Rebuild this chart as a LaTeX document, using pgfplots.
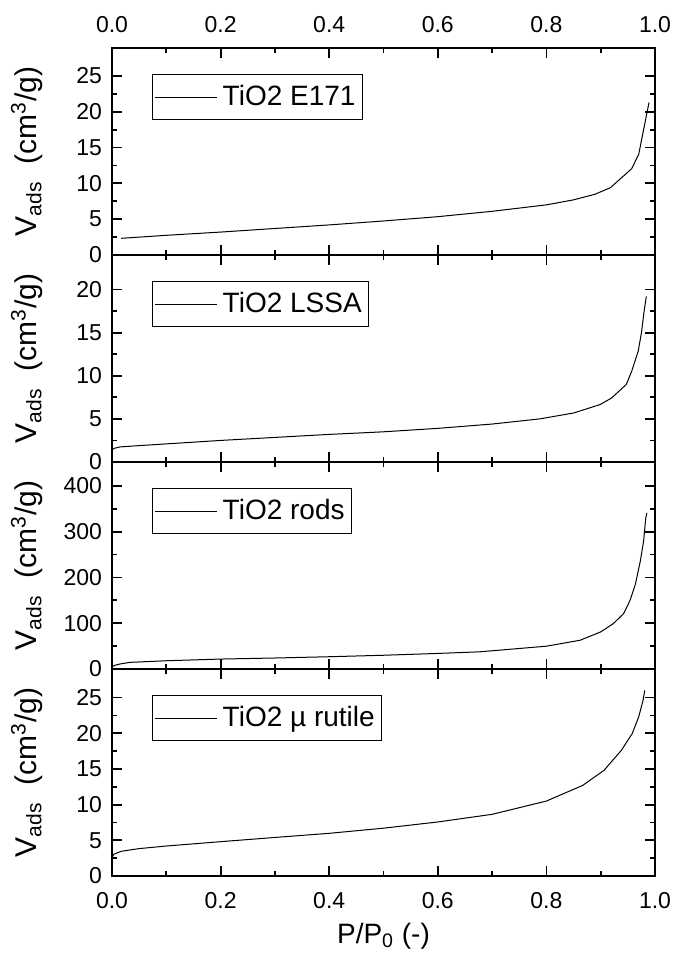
\documentclass[border=0pt]{standalone}
\usepackage{pgfplots}
\pgfplotsset{compat=1.18}
\usepackage{fontspec}
\setmainfont{Liberation Sans}
\begin{document}
\begin{tikzpicture}
\useasboundingbox (-56pt,-42pt) rectangle (282.5pt,438pt);
\pgfplotsset{
  panel/.style={
    width=271.5pt, height=103.5pt, scale only axis,
    xmin=0, xmax=1,
    xtick={0,0.2,0.4,0.6,0.8,1},
    minor x tick num=1, minor y tick num=1,
    tick align=inside,
    axis line style={line width=0.9pt},
    every tick/.style={line width=0.9pt, black},
    major tick length=5pt, minor tick length=2.5pt,
    tick label style={font=\fontsize{11.5}{13}\selectfont},
    /pgf/number format/assume math mode=true,
    xticklabel style={/pgf/number format/fixed, /pgf/number format/fixed zerofill, /pgf/number format/precision=1},
    yticklabel style={xshift=-1.5pt},
    every axis y label/.style={at={(axis description cs:-0.157,0.5)}, rotate=90, anchor=center},
    ylabel={V\textsubscript{ads}\ \ (cm\textsuperscript{3}/g)},
    ylabel style={font=\fontsize{15}{17}\selectfont},
    legend style={at={(0.075,0.872)}, anchor=north west, draw=black, line width=0.5pt,
      font=\fontsize{14}{16}\selectfont, inner xsep=1pt, inner ysep=1pt, outer sep=0pt,
      nodes={inner xsep=2.5pt, inner ysep=4.5pt}, cells={anchor=west}},
    legend image code/.code={\draw[#1,line width=0.5pt] (0pt,0pt) -- (31pt,0pt);},
  }
}
% Panel 1
\begin{axis}[panel, at={(0,310.5pt)}, anchor=south west, ymin=0, ymax=28.9,
  ytick={0,5,10,15,20,25}, xticklabel pos=right,
  xticklabel style={yshift=4pt}]
\addplot[black, line width=0.5pt] coordinates {
(0.017,2.33)(0.1,2.75)(0.2,3.2)(0.3,3.7)(0.4,4.2)(0.5,4.75)(0.6,5.35)(0.7,6.1)
(0.8,7.0)(0.85,7.7)(0.889,8.47)(0.918,9.4)(0.957,12.05)(0.970,14.06)(0.989,21.3)};
\addlegendentry{TiO2 E171}
\end{axis}
% Panel 2
\begin{axis}[panel, at={(0,207pt)}, anchor=south west, ymin=0, ymax=24,
  ytick={0,5,10,15,20}, xticklabels={}]
\addplot[black, line width=0.5pt] coordinates {
(0.0,1.43)(0.005,1.6)(0.015,1.75)(0.05,1.9)(0.1,2.1)(0.2,2.5)(0.3,2.85)(0.4,3.2)
(0.5,3.5)(0.6,3.9)(0.7,4.4)(0.788,5.0)(0.85,5.68)(0.899,6.66)(0.920,7.42)(0.947,8.98)
(0.957,10.5)(0.969,12.84)(0.975,14.96)(0.980,17.5)(0.984,19.2)};
\addlegendentry{TiO2 LSSA}
\end{axis}
% Panel 3
\begin{axis}[panel, at={(0,103.5pt)}, anchor=south west, ymin=0, ymax=452,
  ytick={0,100,200,300,400}, xticklabels={}]
\addplot[black, line width=0.5pt] coordinates {
(0.0,5)(0.005,8)(0.015,11)(0.033,14.5)(0.1,18)(0.2,21.7)(0.3,24)(0.4,26.8)(0.5,30)
(0.6,34)(0.677,37.5)(0.8,49.8)(0.862,62.8)(0.9,80.9)(0.923,98.9)(0.942,120.6)(0.954,149.5)
(0.964,185.6)(0.973,236)(0.979,279)(0.983,330)(0.985,341)};
\addlegendentry{TiO2 rods}
\end{axis}
% Panel 4
\begin{axis}[panel, at={(0,0)}, anchor=south west, ymin=0, ymax=29,
  ytick={0,5,10,15,20,25},
  xticklabel style={yshift=-4.5pt},
  xlabel={P/P\textsubscript{0} (-)},
  xlabel style={font=\fontsize{14}{16}\selectfont, at={(axis description cs:0.5,-0.29)}, anchor=center}]
\addplot[black, line width=0.5pt] coordinates {
(0.0,2.43)(0.003,3.04)(0.017,3.46)(0.049,3.83)(0.1,4.2)(0.2,4.81)(0.3,5.4)(0.4,5.98)
(0.5,6.7)(0.6,7.57)(0.7,8.64)(0.8,10.5)(0.867,12.7)(0.906,14.8)(0.938,17.6)
(0.958,19.95)(0.970,22.3)(0.978,24.6)(0.981,26.0)};
\addlegendentry{TiO2 µ rutile}
\end{axis}
\end{tikzpicture}
\end{document}
